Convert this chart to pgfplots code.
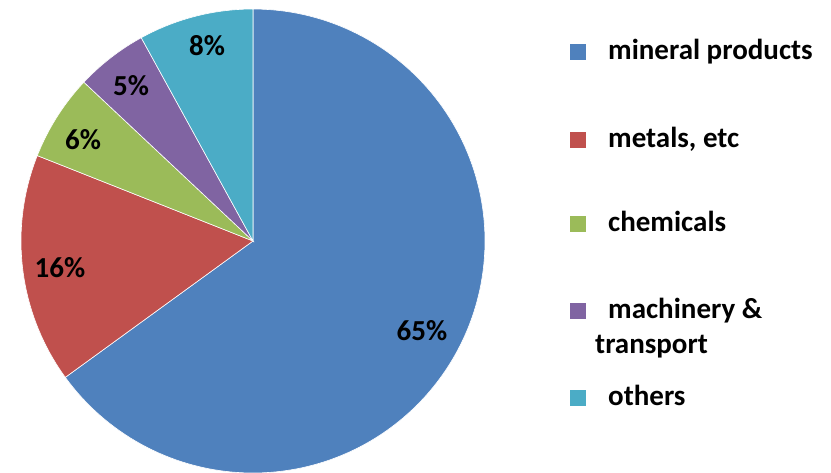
\documentclass[border=0pt]{standalone}
\usepackage{pgfplots}
\pgfplotsset{compat=1.18}
\usepackage{fontspec}
\setmainfont{Carlito}
\definecolor{cBlue}{HTML}{4F81BD}
\definecolor{cRed}{HTML}{C0504D}
\definecolor{cGreen}{HTML}{9BBB59}
\definecolor{cPurple}{HTML}{8064A2}
\definecolor{cAqua}{HTML}{4BACC6}
\def\curang{90}
\newcommand\slice[2]{%
  \pgfmathsetmacro\angB{\curang}%
  \pgfmathsetmacro\angA{\curang-3.6*#1}%
  \edef\doslice{\noexpand\addplot[fill=#2, draw=white, line width=0.6pt, domain=\angA:\angB, samples=150, variable=\noexpand\t] ({253+232*cos(\noexpand\t)},{241-232*sin(\noexpand\t)}) -- (axis cs:253,241) -- cycle;}%
  \doslice
  \xdef\curang{\angA}%
}
\newcommand\lbl{\fontsize{29}{32}\selectfont\bfseries}
\begin{document}
\begin{tikzpicture}
\path[use as bounding box, clip] (0,0) rectangle (831pt,472pt);
\begin{axis}[
  at={(0,0)}, anchor=south west,
  scale only axis, width=831pt, height=472pt,
  xmin=0, xmax=831, ymin=0, ymax=472, y dir=reverse,
  hide axis, clip=true,
]
% percentages: mineral products, metals etc, chemicals, machinery & transport, others
\slice{65}{cBlue}
\slice{16}{cRed}
\slice{6}{cGreen}
\slice{5}{cPurple}
\slice{8}{cAqua}
\node[font=\lbl] at (axis cs:207,46) {8\%};
\node[font=\lbl] at (axis cs:131,86) {5\%};
\node[font=\lbl] at (axis cs:83,140) {6\%};
\node[font=\lbl] at (axis cs:60,268) {16\%};
\node[font=\lbl] at (axis cs:422,331) {65\%};
% legend
\node[fill=cBlue, minimum size=16pt, inner sep=0pt, anchor=south west] at (axis cs:570,60) {};
\node[fill=cRed, minimum size=16pt, inner sep=0pt, anchor=south west] at (axis cs:570,148) {};
\node[fill=cGreen, minimum size=16pt, inner sep=0pt, anchor=south west] at (axis cs:570,232) {};
\node[fill=cPurple, minimum size=16pt, inner sep=0pt, anchor=south west] at (axis cs:570,319) {};
\node[fill=cAqua, minimum size=16pt, inner sep=0pt, anchor=south west] at (axis cs:570,406) {};
\node[font=\lbl, anchor=base west, inner sep=0pt] at (axis cs:608,59) {mineral products};
\node[font=\lbl, anchor=base west, inner sep=0pt] at (axis cs:608,147) {metals, etc};
\node[font=\lbl, anchor=base west, inner sep=0pt] at (axis cs:608,231) {chemicals};
\node[font=\lbl, anchor=base west, inner sep=0pt] at (axis cs:608,318) {machinery \&};
\node[font=\lbl, anchor=base west, inner sep=0pt] at (axis cs:595,353) {transport};
\node[font=\lbl, anchor=base west, inner sep=0pt] at (axis cs:608,405) {others};
\end{axis}
\end{tikzpicture}
\end{document}
